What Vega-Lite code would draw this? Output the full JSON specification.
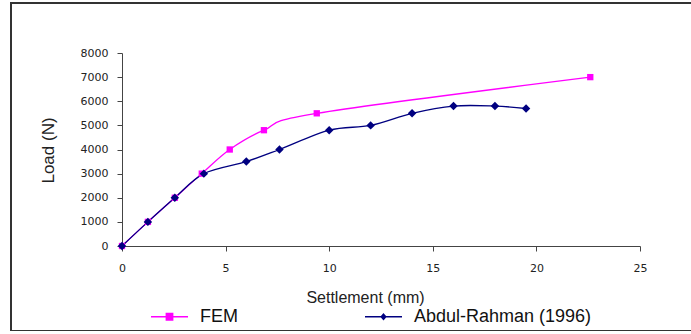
{
  "$schema": "https://vega.github.io/schema/vega-lite/v6.json",
  "autosize": {"type": "none"},
  "padding": {"left": 11, "top": 3, "right": -10, "bottom": 0},
  "width": 690,
  "height": 328,
  "background": "white",
  "config": {
    "font": "Liberation Sans",
    "view": {"stroke": "#333333", "strokeWidth": 2},
    "axis": {
      "grid": false,
      "domainColor": "#444444",
      "tickColor": "#444444",
      "tickSize": 5,
      "labelColor": "#222222",
      "titleColor": "#222222",
      "labelFont": "DejaVu Sans",
      "labelFontSize": 11,
      "labelFlush": false,
      "titleFont": "Liberation Sans",
      "titleFontWeight": "normal"
    }
  },
  "data": {
    "values": [
      {"series": "FEM", "settlement": 0, "load": 0},
      {"series": "FEM", "settlement": 1.25, "load": 1000},
      {"series": "FEM", "settlement": 2.55, "load": 2000},
      {"series": "FEM", "settlement": 3.85, "load": 3000},
      {"series": "FEM", "settlement": 5.2, "load": 4000},
      {"series": "FEM", "settlement": 6.85, "load": 4800},
      {"series": "FEM", "settlement": 9.4, "load": 5500},
      {"series": "FEM", "settlement": 22.6, "load": 7000},
      {"series": "Abdul-Rahman (1996)", "settlement": 0, "load": 0},
      {"series": "Abdul-Rahman (1996)", "settlement": 1.25, "load": 1000},
      {"series": "Abdul-Rahman (1996)", "settlement": 2.55, "load": 2000},
      {"series": "Abdul-Rahman (1996)", "settlement": 3.95, "load": 3000},
      {"series": "Abdul-Rahman (1996)", "settlement": 6.0, "load": 3500},
      {"series": "Abdul-Rahman (1996)", "settlement": 7.6, "load": 4000},
      {"series": "Abdul-Rahman (1996)", "settlement": 10.0, "load": 4800},
      {"series": "Abdul-Rahman (1996)", "settlement": 12.0, "load": 5000},
      {"series": "Abdul-Rahman (1996)", "settlement": 14.0, "load": 5500},
      {"series": "Abdul-Rahman (1996)", "settlement": 16.0, "load": 5800},
      {"series": "Abdul-Rahman (1996)", "settlement": 18.0, "load": 5800},
      {"series": "Abdul-Rahman (1996)", "settlement": 19.5, "load": 5700}
    ]
  },
  "encoding": {
    "x": {
      "field": "settlement",
      "type": "quantitative",
      "scale": {"domain": [0, 25], "range": [111, 629], "nice": false, "zero": false},
      "axis": {
        "values": [0, 5, 10, 15, 20, 25],
        "format": "d",
        "offset": -85,
        "labelPadding": 11,
        "title": "Settlement (mm)",
        "titleFontSize": 16,
        "titleX": 354,
        "titleY": 56,
        "titleBaseline": "alphabetic",
        "titleAlign": "center"
      }
    },
    "y": {
      "field": "load",
      "type": "quantitative",
      "scale": {"domain": [0, 8000], "range": [243, 50], "nice": false},
      "axis": {
        "values": [0, 1000, 2000, 3000, 4000, 5000, 6000, 7000, 8000],
        "format": "d",
        "offset": -111,
        "labelPadding": 9,
        "title": "Load (N)",
        "titleFontSize": 17,
        "titleX": -69,
        "titleY": 147,
        "titleBaseline": "alphabetic",
        "titleAlign": "center"
      }
    },
    "color": {
      "field": "series",
      "type": "nominal",
      "scale": {"domain": ["FEM", "Abdul-Rahman (1996)"], "range": ["#ff00ff", "#000080"]},
      "legend": {
        "title": null,
        "orient": "none",
        "direction": "horizontal",
        "legendX": 139,
        "legendY": 294,
        "symbolSize": 1369,
        "symbolStrokeWidth": 1.5,
        "labelFont": "Liberation Sans",
        "labelFontSize": 18,
        "labelColor": "#111111",
        "labelOffset": 11,
        "labelLimit": 0,
        "columnPadding": 124,
        "encode": {
          "symbols": {
            "update": {
              "shape": {"signal": "datum.value === 'FEM' ? 'M-1,0H1M-0.17,-0.17H0.17V0.17H-0.17Z' : 'M-1,0H1M0,-0.14L0.12,0L0,0.14L-0.12,0Z'"},
              "fill": {"signal": "datum.value === 'FEM' ? '#ff00ff' : '#000080'"},
              "stroke": {"signal": "datum.value === 'FEM' ? '#ff00ff' : '#000080'"},
              "strokeWidth": {"value": 1.5},
              "opacity": {"value": 1}
            }
          }
        }
      }
    }
  },
  "layer": [
    {
      "mark": {"type": "line", "interpolate": "cardinal", "strokeWidth": 1.3}
    },
    {
      "transform": [{"filter": "datum.series === 'FEM'"}],
      "mark": {"type": "point", "shape": "square", "filled": true, "size": 40, "opacity": 1}
    },
    {
      "transform": [{"filter": "datum.series !== 'FEM'"}],
      "mark": {"type": "point", "shape": "diamond", "filled": true, "size": 72, "opacity": 1}
    }
  ]
}
